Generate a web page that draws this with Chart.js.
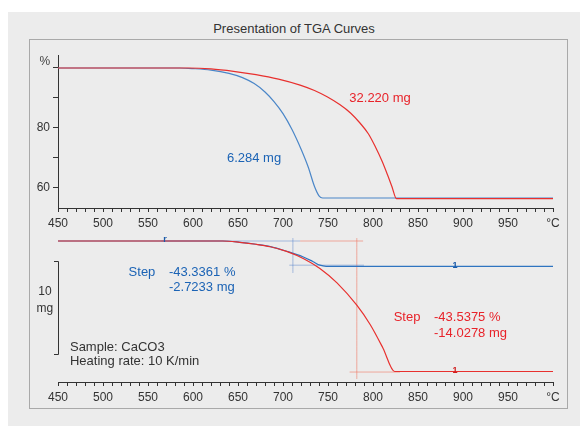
<!DOCTYPE html>
<html><head><meta charset="utf-8">
<script src="https://cdn.jsdelivr.net/npm/chart.js@4/dist/chart.umd.min.js"></script>
<style>
html,body{margin:0;padding:0;background:#fff;width:580px;height:426px;overflow:hidden;font-family:"Liberation Sans",Arial,sans-serif}
#panel{position:absolute;left:8px;top:12px;width:572px;height:414px;background:#ececec}
#frame{position:absolute;left:29px;top:39px;width:537px;height:368px;border:1px solid #a9a9a9}
#title{position:absolute;left:8px;width:572px;top:21px;text-align:center;font-size:13px;line-height:15px;color:#333}
canvas{position:absolute}
</style></head><body>
<div id="panel"></div><div id="frame"></div><div id="title">Presentation of TGA Curves</div>
<canvas id="top" width="537" height="192" style="left:30px;top:40px"></canvas>
<canvas id="bot" width="537" height="177" style="left:30px;top:232px"></canvas>
<script>
// ---- data ----
const xMajorTicks = [450,500,550,600,650,700,750,800,850,900,950,1000];
const xTickLabels = ['450','500','550','600','650','700','750','800','850','900','950','°C'];
const yTopTicks = [60,70,80,90,100];
const yTopLabels = ['60','','80','',''];

// top plot: mass in %
const redTopT = [450,595,620,645,670,695,719,735,749,763,775,786,795,803,810,816,821,826,1000];
const redTopP = [100,100,99.7,98.9,97.8,96.3,94.3,92.5,90.4,87.8,85,81.5,78,73.5,69,64.5,60.5,56.46,56.46];
const blueTopT = [450,585,600,620,640,655,668,680,690,700,710,720,728,735,740,744,1000];
const blueTopP = [100,100,99.8,99.3,98.2,96.8,94.8,92,88.8,84.8,79.5,73,67,60.5,57.4,56.66,56.66];

// bottom plot: mass change in mg
const redBotT = [450,633,652,670,686,704,723,741,760,782,797,811,824,1000];
const redBotM = [0,0,-0.14,-0.35,-0.62,-1.12,-1.9,-2.95,-4.5,-6.9,-9.0,-11.5,-14.03,-14.03];
const blueBotT = [450,633,652,670,686,704,722,733,741,748,1000];
const blueBotM = [0,0,-0.14,-0.35,-0.6,-1.1,-1.69,-2.2,-2.6,-2.72,-2.72];

// step evaluation construction lines (temperature, mg)
const blueStepT = 711, blueStepTop = 0, blueStepBase = -2.6;
const redStepT = 782, redStepTop = 0, redStepBase = -14.09;

const FAM = '"Liberation Sans", Arial, sans-serif';
const RED = '#e8302e', BLUE = '#2f74c0', BLUETXT = '#1b63b5', REDTXT = '#e8232a';

function pts(xs, ys){ return xs.map((x,i)=>({x:x, y:ys[i]})); }
const xMinor = []; for (let v = 450; v <= 1000; v += 10) xMinor.push(v);

function xAxis(h){
  return {
    type:'linear', min:450, max:1000,
    afterBuildTicks: s => { s.ticks = xMinor.map(v=>({value:v})); },
    afterFit: s => { s.height = h; },
    ticks:{autoSkip:false, maxRotation:0, minRotation:0, padding:4, color:'#333', font:{family:FAM,size:12},
      callback: v => { const i = xMajorTicks.indexOf(v); return i>=0 ? xTickLabels[i] : ''; }},
    grid:{drawOnChartArea:false, tickLength:4, tickColor:'#333'},
    border:{display:true, color:'#333'}
  };
}

const textPlugin = {
  id:'texts',
  afterDatasetsDraw(chart){
    const items = chart.options.plugins.texts.items || [];
    const ctx = chart.ctx, xs = chart.scales.x, ys = chart.scales.y;
    ctx.save();
    items.forEach(it=>{
      ctx.font = (it.bold?'bold ':'') + (it.size||13) + 'px ' + FAM;
      ctx.fillStyle = it.color;
      ctx.textAlign = it.align || 'left';
      ctx.textBaseline = 'middle';
      ctx.fillText(it.text, xs.getPixelForValue(it.x), ys.getPixelForValue(it.y));
    });
    const br = chart.options.plugins.texts.bracket;
    if (br){
      const x = chart.chartArea.left, y1 = ys.getPixelForValue(br.from), y2 = ys.getPixelForValue(br.to);
      ctx.strokeStyle = '#333'; ctx.lineWidth = 1;
      ctx.beginPath();
      ctx.moveTo(x-4, Math.round(y1)+0.5); ctx.lineTo(x+0.5, Math.round(y1)+0.5);
      ctx.lineTo(x+0.5, Math.round(y2)+0.5); ctx.lineTo(x-4, Math.round(y2)+0.5);
      ctx.stroke();
    }
    ctx.restore();
  }
};

const lineDs = (data, color, w) => ({data, borderColor:color, borderWidth:w||1.2, pointRadius:0, fill:false, cubicInterpolationMode:'monotone'});

// ---- top chart ----
new Chart(document.getElementById('top'), {
  type:'line',
  data:{datasets:[
    lineDs(pts(redTopT, redTopP), RED),
    lineDs(pts(blueTopT, blueTopP), '#4a86c8')
  ]},
  options:{
    responsive:false, animation:false, events:[],
    layout:{padding:{left:0, top:15, right:14, bottom:0}},
    scales:{
      x: xAxis(24),
      y:{type:'linear', min:53.333, max:104.333,
        afterBuildTicks: s => { s.ticks = yTopTicks.map(v=>({value:v})); },
        afterFit: s => { s.width = 28; },
        ticks:{padding:3, color:'#333', font:{family:FAM,size:12},
          callback: v => yTopLabels[yTopTicks.indexOf(v)]},
        grid:{drawOnChartArea:false, tickLength:5, tickColor:'#333'},
        border:{display:true, color:'#333'}}
    },
    plugins:{legend:{display:false}, tooltip:{enabled:false},
      texts:{items:[
        {x:807.8, y:90, text:'32.220 mg', color:REDTXT, align:'center'},
        {x:667.8, y:69.7, text:'6.284 mg', color:BLUETXT, align:'center'},
        {x:435.5, y:102, text:'%', color:'#444', align:'center', size:12}
      ]}}
  },
  plugins:[textPlugin]
});

// ---- bottom chart ----
const lightRed = 'rgba(240,110,90,0.55)', lightBlue = 'rgba(70,120,200,0.45)';
new Chart(document.getElementById('bot'), {
  type:'line',
  data:{datasets:[
    lineDs(pts(redBotT, redBotM), RED),
    lineDs(pts(blueBotT, blueBotM), BLUE),
    lineDs([{x:blueStepT,y:0.32},{x:blueStepT,y:-3.44}], lightBlue, 1),
    lineDs([{x:565,y:blueStepTop},{x:719,y:blueStepTop}], lightBlue, 1),
    lineDs([{x:707,y:blueStepBase},{x:790,y:blueStepBase}], lightBlue, 1),
    lineDs([{x:redStepT,y:0.32},{x:redStepT,y:-14.84}], lightRed, 1),
    lineDs([{x:719,y:redStepTop},{x:789,y:redStepTop}], lightRed, 1),
    lineDs([{x:774,y:redStepBase},{x:830,y:redStepBase}], lightRed, 1)
  ]},
  options:{
    responsive:false, animation:false, events:[],
    layout:{padding:{left:28, top:2, right:14, bottom:0}},
    scales:{
      x: xAxis(27),
      y:{type:'linear', min:-15.161, max:0.7527, display:false}
    },
    plugins:{legend:{display:false}, tooltip:{enabled:false},
      texts:{
        bracket:{from:-2.15, to:-12.15},
        items:[
        {x:543.3, y:-3.33, text:'Step', color:BLUETXT, align:'center'},
        {x:573.3, y:-3.33, text:'-43.3361 %', color:BLUETXT},
        {x:573.3, y:-4.95, text:'-2.7233 mg', color:BLUETXT},
        {x:837.8, y:-8.17, text:'Step', color:REDTXT, align:'center'},
        {x:867.8, y:-8.17, text:'-43.5375 %', color:REDTXT},
        {x:867.8, y:-9.89, text:'-14.0278 mg', color:REDTXT},
        {x:463.3, y:-11.4, text:'Sample: CaCO3', color:'#333'},
        {x:463.3, y:-13.0, text:'Heating rate: 10 K/min', color:'#333'},
        {x:435.5, y:-5.45, text:'10', color:'#333', align:'center', size:12},
        {x:435.5, y:-7.3, text:'mg', color:'#333', align:'center', size:12},
        {x:569, y:0.2, text:'r', color:'#1b5aa8', align:'center', size:9, bold:true},
        {x:891, y:-2.62, text:'1', color:'#1b5aa8', align:'center', size:9, bold:true},
        {x:891, y:-13.95, text:'1', color:'#d02020', align:'center', size:9, bold:true}
      ]}}
  },
  plugins:[textPlugin]
});
</script>
</body></html>
